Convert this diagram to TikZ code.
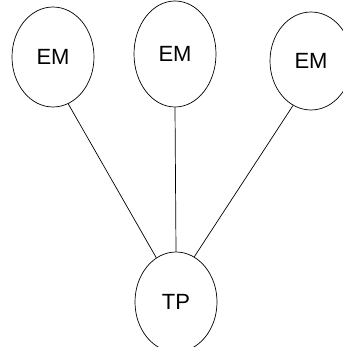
\documentclass[tikz,border=0pt]{standalone}
\usepackage{fontspec}
\setmainfont{Liberation Sans}
\usetikzlibrary{shapes.geometric}

\begin{document}
\begin{tikzpicture}[x = 1pt, y = -1pt, line width = 0.7pt,
		bubble/.style = {draw, ellipse, inner sep = 0pt, minimum width = 82pt, minimum height = 100pt, font = \fontsize{22}{26}\selectfont}]
		\useasboundingbox (0,0) rectangle (342,347);

		\node [bubble] (EMa) at (53,57) {EM};
		\node [bubble, minimum height = 106pt] (EMb) at (175,54) {EM};
		\node [bubble, minimum height = 98pt] (EMc) at (311,61) {EM};

		\node [bubble] (TP) at (176,302) {TP};

		\draw (EMa.-72) -- (TP.114);
		\draw (EMb.south) -- (TP.north);
		\draw (EMc.248) -- (TP.68);
	\end{tikzpicture}
\end{document}
